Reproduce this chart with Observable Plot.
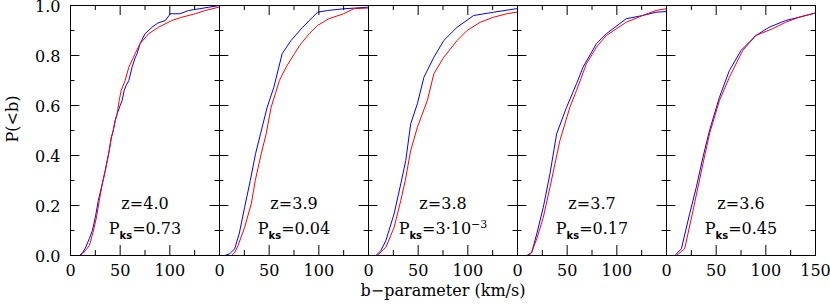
<!DOCTYPE html>
<html><head><meta charset="utf-8">
<script src="https://cdn.jsdelivr.net/npm/d3@7"></script>
<script src="https://cdn.jsdelivr.net/npm/@observablehq/plot@0.6"></script>
<style>body{margin:0;background:#fff}</style>
</head><body><div id="chart"></div>
<script>
// Panels (redshift) and KS probabilities
const panels = ["z=4.0", "z=3.9", "z=3.8", "z=3.7", "z=3.6"];
const pks = ["0.73", "0.04", "3·10^−3", "0.17", "0.45"];
// Tick values
const xMajor = [0, 50, 100, 150];
const xMinor = [25, 75, 125];
const yMajor = [0, 0.2, 0.4, 0.6, 0.8, 1.0];
const yMinor = [0.1, 0.3, 0.5, 0.7, 0.9];
const xTickLabels = [0, 50, 100];
const lastTickLabel = [150];
// Cumulative distributions [b (km/s), P(<b)]
const blue40 = [[9,0],[12,0.01],[15,0.03],[19,0.068],[22,0.1],[25,0.153],[28,0.22],[32,0.287],[35,0.34],[37,0.38],[39,0.42],[41,0.47],[43,0.5],[45,0.54],[47,0.567],[50,0.6],[52,0.62],[54,0.66],[56,0.68],[58.7,0.70],[62,0.753],[65,0.79],[67,0.807],[70,0.847],[75,0.887],[82,0.913],[88,0.93],[95.5,0.94],[100.5,0.967],[110,0.967],[119,0.98],[139,0.993],[150,1.0]];
const red40 = [[10,0],[13,0.01],[16,0.025],[19,0.04],[22.7,0.093],[26,0.15],[29,0.22],[32,0.287],[35,0.34],[37,0.38],[39,0.42],[41,0.47],[43,0.5],[45,0.54],[47,0.567],[49,0.62],[51,0.66],[55,0.70],[58.7,0.753],[65,0.807],[70,0.847],[78.6,0.887],[88.7,0.913],[102,0.94],[112,0.953],[125.6,0.967],[135.6,0.98],[149,0.993],[150,0.995]];
const blue39 = [[5.3,0],[10.3,0.007],[15.3,0.027],[20,0.09],[25.3,0.193],[31,0.3],[36.3,0.407],[41.3,0.487],[48,0.593],[54.7,0.673],[59.7,0.753],[63,0.807],[72,0.86],[83.7,0.913],[93.7,0.953],[98.7,0.973],[108.7,0.98],[125.3,0.987],[148.7,0.993],[150,0.995]];
const red39 = [[12,0],[15,0.01],[18.7,0.04],[25.3,0.113],[32,0.207],[36,0.3],[42,0.407],[47,0.487],[52,0.593],[60.3,0.70],[67,0.753],[75.3,0.807],[82,0.847],[90.3,0.887],[98.7,0.92],[110,0.947],[125,0.967],[135,0.987],[150,0.99]];
const blue38 = [[7.5,0],[12.5,0.02],[17.5,0.06],[25.8,0.167],[32.5,0.287],[37.5,0.38],[42.5,0.527],[49.2,0.607],[55.8,0.713],[65.8,0.793],[75.8,0.86],[89.2,0.913],[105.8,0.96],[125.8,0.973],[148.5,0.987],[150,0.987]];
const red38 = [[9,0],[17.5,0.033],[25.8,0.113],[32.5,0.22],[37,0.3],[42.5,0.42],[49.2,0.513],[59.2,0.62],[65.8,0.727],[75.8,0.793],[89.2,0.86],[99.2,0.9],[112.5,0.933],[125.8,0.953],[139.2,0.967],[148.5,0.973],[150,0.973]];
const blue37 = [[9.4,0],[14.4,0.013],[19.4,0.087],[26,0.193],[32.7,0.327],[39.4,0.487],[49.4,0.593],[59.4,0.687],[66,0.753],[79.4,0.847],[89.4,0.887],[109.4,0.947],[126,0.96],[139.4,0.973],[150,0.976]];
const red37 = [[11,0],[14,0.01],[19.4,0.067],[26,0.153],[32.7,0.273],[42.7,0.46],[52.7,0.593],[59.4,0.66],[69.4,0.767],[79.4,0.833],[89.4,0.88],[109.4,0.933],[126,0.96],[139.4,0.98],[150,0.987]];
const blue36 = [[8.3,0],[15,0.027],[23.3,0.167],[30,0.273],[36.7,0.393],[43.3,0.5],[53.3,0.633],[63.3,0.74],[75,0.82],[90,0.88],[103.3,0.913],[120,0.94],[133.3,0.953],[150,0.97]];
const red36 = [[10,0],[18.3,0.027],[26.7,0.18],[36.7,0.367],[43.3,0.487],[53.3,0.62],[63.3,0.713],[76.7,0.82],[90,0.88],[106.7,0.907],[120,0.933],[133.3,0.953],[150,0.97]];

const blues = [blue40, blue39, blue38, blue37, blue36];
const reds = [red40, red39, red38, red37, red36];
const rows = [];
panels.forEach((p, i) => {
  blues[i].forEach(([b, P]) => rows.push({panel: p, series: "blue", b, P}));
  reds[i].forEach(([b, P]) => rows.push({panel: p, series: "red", b, P}));
});
const labels = panels.map((p, i) => ({panel: p, z: p, ks: "Pks=" + pks[i]}));

const W = 830, H = 305, mL = 68, mR = 14, mT = 5, mB = 50;
const fw = (W - mL - mR) / panels.length, fh = H - mT - mB;
const major = 10, minor = 5;

const chart = Plot.plot({
  width: W, height: H,
  marginLeft: mL, marginRight: mR, marginTop: mT, marginBottom: mB,
  style: {fontFamily: "DejaVu Serif", fontSize: "16px", color: "black", background: "white", overflow: "visible"},
  fx: {domain: panels, padding: 0, axis: null},
  x: {domain: [0, 150]},
  y: {domain: [0, 1]},
  color: {domain: ["blue", "red"], range: ["#0000ff", "#ff0000"]},
  marks: [
    Plot.line(rows, {x: "b", y: "P", fx: "panel", z: "series", stroke: "series", strokeWidth: 1}),
    Plot.frame({stroke: "black", strokeWidth: 1}),
    // inward ticks
    Plot.tickX(xMajor, {x: d => d, insetTop: fh - major, stroke: "black"}),
    Plot.tickX(xMajor, {x: d => d, insetBottom: fh - major, stroke: "black"}),
    Plot.tickX(xMinor, {x: d => d, insetTop: fh - minor, stroke: "black"}),
    Plot.tickX(xMinor, {x: d => d, insetBottom: fh - minor, stroke: "black"}),
    Plot.tickY(yMajor, {y: d => d, insetRight: fw - major, stroke: "black"}),
    Plot.tickY(yMajor, {y: d => d, insetLeft: fw - major, stroke: "black"}),
    Plot.tickY(yMinor, {y: d => d, insetRight: fw - minor, stroke: "black"}),
    Plot.tickY(yMinor, {y: d => d, insetLeft: fw - minor, stroke: "black"}),
    Plot.axisY(yMajor, {tickSize: 0, tickPadding: 10, dy: 1, tickFormat: d3.format(".1f"), label: null}),
    Plot.axisX(xTickLabels, {tickSize: 0, tickPadding: 9, label: null}),
    Plot.text(lastTickLabel, {x: d => d, fx: () => panels[panels.length - 1], frameAnchor: "bottom", dy: 9, lineAnchor: "top", text: d => String(d)}),
    Plot.text(labels, {fx: "panel", text: "z", frameAnchor: "bottom", dy: -47}),
    Plot.text(labels, {fx: "panel", text: "ks", frameAnchor: "bottom", dy: -22}),
    Plot.text(["b−parameter (km/s)"], {facet: "super", frameAnchor: "bottom", dy: 40}),
    Plot.text(["P(<b)"], {facet: "super", frameAnchor: "left", dx: -58, dy: 12, rotate: -90})
  ]
});

// subscript "ks" and superscript exponent as real tspans
d3.select(chart).selectAll("text").each(function() {
  const t = this.textContent;
  if (!t.startsWith("Pks=")) return;
  const rest = t.slice(3);
  const sel = d3.select(this);
  sel.text(null);
  sel.append("tspan").text("P");
  sel.append("tspan").attr("dy", 5).attr("font-size", 10).attr("font-weight", "bold")
     .attr("font-family", "DejaVu Sans").text("ks");
  const parts = rest.split("^");
  sel.append("tspan").attr("dy", -5).text(parts[0]);
  if (parts[1]) sel.append("tspan").attr("dy", -6).attr("font-size", 11).text(parts[1]);
});

document.getElementById("chart").append(chart);
</script>
</body></html>
